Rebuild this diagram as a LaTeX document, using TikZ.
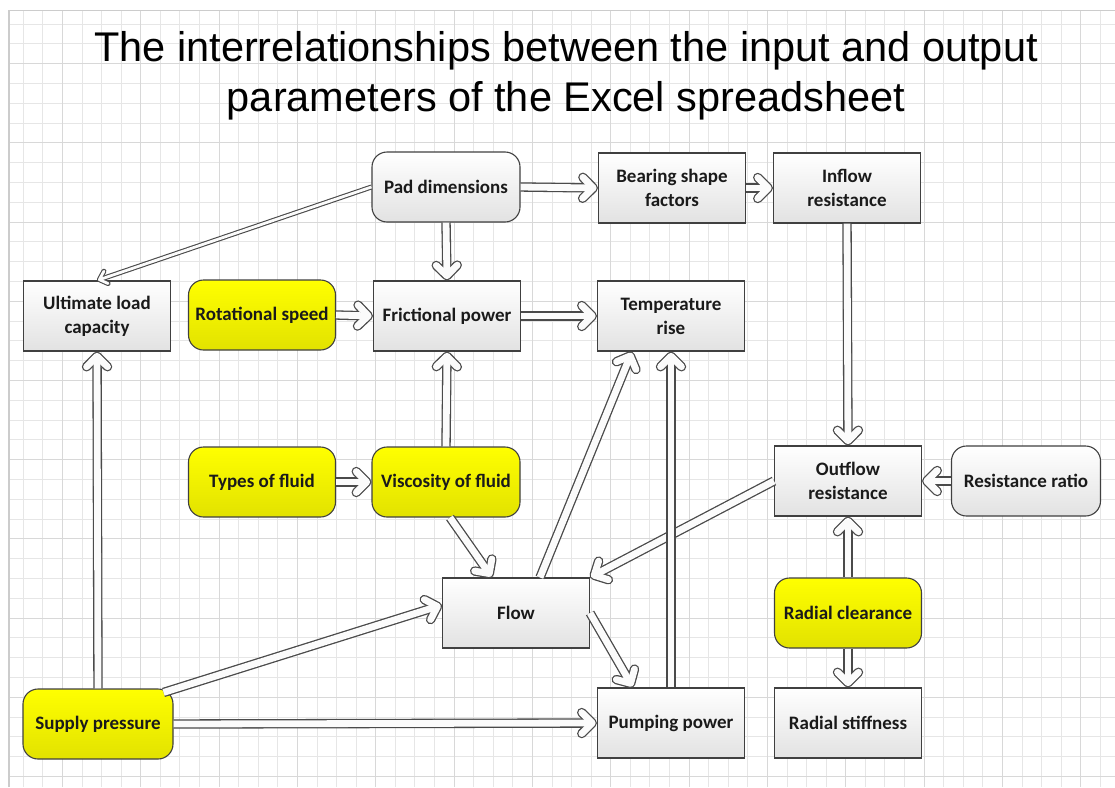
\documentclass[tikz,border=0pt]{standalone}
\usepackage{fontspec}
\setmainfont{Carlito}
\newfontfamily\titlefont{Liberation Sans}
\usetikzlibrary{arrows.meta}
\definecolor{gridC}{HTML}{E6E6E6}
\definecolor{gridD}{HTML}{D8D8D8}
\definecolor{gridB}{HTML}{CCCCCC}
\definecolor{lineC}{HTML}{404040}
\definecolor{arrC}{HTML}{4A4A4A}
\definecolor{boxL}{HTML}{E2E2E2}
\definecolor{yelT}{HTML}{FFFF00}
\definecolor{yelB}{HTML}{E2E200}
\definecolor{txt}{HTML}{1A1A1A}
\tikzset{
  box/.style={draw=lineC, line width=1.1pt, top color=white, bottom color=boxL,
    minimum width=147pt, minimum height=70pt, align=center, text=txt,
    font=\bfseries\fontsize{19}{24}\selectfont, inner sep=2pt},
  rbox/.style={box, rounded corners=15pt},
  ybox/.style={rbox, top color=yelT, bottom color=yelB},
  arr/.style={draw=white!97!gray, line width=6.8pt, shorten >=1.3pt,
    -{Straight Barb[round, length=10.5pt, width=21pt]},
    preaction={draw=arrC, line width=9.4pt, shorten >=0pt,
      -{Straight Barb[round, length=10.5pt, width=21pt]}}},
  thinarr/.style={draw=white!97!gray, line width=2.8pt, shorten >=1.1pt,
    -{Straight Barb[round, length=7pt, width=13pt]},
    preaction={draw=arrC, line width=5pt, shorten >=0pt,
      -{Straight Barb[round, length=7pt, width=13pt]}}},
  ttl/.style={font=\titlefont\fontsize{41.5}{50}\selectfont, anchor=base, inner sep=0pt}
}
\begin{document}
\begin{tikzpicture}[x=1pt, y=-1pt]
\useasboundingbox (0,0) rectangle (1115,787);
\fill[white] (0,0) rectangle (1115,787);
% grid
\foreach \k in {0,...,55} {
  \pgfmathsetmacro\xx{23.3+19.583*\k}
  \draw[gridC, line width=1pt] (\xx,10.7) -- (\xx,787);
}
\foreach \k in {0,...,38} {
  \pgfmathsetmacro\yy{24+19.8*\k}
  \draw[gridC, line width=1pt] (9,\yy) -- (1115,\yy);
}
\foreach \k in {2,6,...,54} {
  \pgfmathsetmacro\xx{23.3+19.583*\k}
  \draw[gridD, line width=1pt] (\xx,10.7) -- (\xx,787);
}
\foreach \k in {2,6,...,38} {
  \pgfmathsetmacro\yy{24+19.8*\k}
  \draw[gridD, line width=1pt] (9,\yy) -- (1115,\yy);
}
\draw[gridB, line width=1.5pt] (9,787) -- (9,10.7) -- (1115,10.7);
% title
\node[ttl] (title1) at (566,61) {The interrelationships between the input and output};
\node[ttl] (title2) at (566,111) {parameters of the Excel spreadsheet};
% nodes
\node[rbox, minimum width=148pt] (pad) at (446,187) {Pad dimensions};
\node[box] (bsf) at (672,188) {Bearing shape\\factors};
\node[box] (inflow) at (847,188) {Inflow\\resistance};
\node[box] (ulc) at (97,316) {Ultimate load\\capacity};
\node[ybox] (rot) at (262,315) {Rotational speed};
\node[box] (fric) at (447,316) {Frictional power};
\node[box] (temp) at (671,316) {Temperature\\rise};
\node[ybox] (types) at (262,482) {Types of fluid};
\node[ybox, minimum width=148pt] (visc) at (446,482) {Viscosity of fluid};
\node[box] (outflow) at (848,481) {Outflow\\resistance};
\node[rbox, minimum width=149pt] (rr) at (1026,481) {Resistance ratio};
\node[box] (flow) at (516,613) {Flow};
\node[ybox] (rc) at (848,613) {Radial clearance};
\node[ybox, minimum width=150pt] (supply) at (98,724) {Supply pressure};
\node[box] (pump) at (671,723) {Pumping power};
\node[box] (rs) at (848,723) {Radial stiffness};
% connectors
\draw[thinarr] (pad.west) -- (ulc.north);
\draw[arr] (pad.east) -- (bsf.west);
\draw[arr] (bsf.east) -- (inflow.west);
\draw[arr] (pad.south) -- (fric.north);
\draw[arr] (rot.east) -- (fric.west);
\draw[arr] (fric.east) -- (temp.west);
\draw[arr] (visc.north) -- (fric.south);
\draw[arr] (types.east) -- (visc.west);
\draw[arr] ([xshift=4pt]visc.south) -- ([xshift=-24pt]flow.north);
\draw[arr] ([xshift=24pt]flow.north) -- ([xshift=-39pt]temp.south);
\draw[arr] (outflow.west) -- (flow.north east);
\draw[arr] (inflow.south) -- (outflow.north);
\draw[arr] (rr.west) -- (outflow.east);
\draw[arr] (rc.north) -- (outflow.south);
\draw[arr] (rc.south) -- (rs.north);
\draw[arr] (flow.east) -- ([xshift=-38pt]pump.north);
\draw[arr] (pump.north) -- (temp.south);
\draw[arr] (supply.north) -- (ulc.south);
\draw[arr] ([xshift=-10pt,yshift=-4pt]supply.north east) -- ([yshift=8pt]flow.west);
\draw[arr] (supply.east) -- (pump.west);
\end{tikzpicture}
\end{document}
